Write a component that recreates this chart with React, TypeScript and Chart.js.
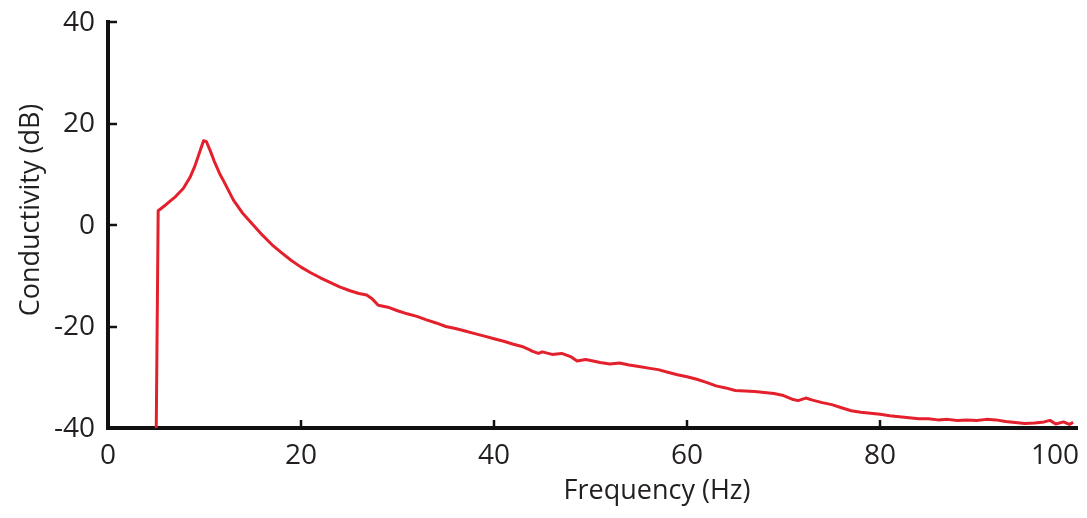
import React, { useEffect, useRef } from "react";
import { Chart, registerables } from "chart.js";

Chart.register(...registerables);

const frequencyHz = [
  5.0, 5.2, 6, 7, 7.8, 8.5, 9, 9.5, 9.9, 10.2, 10.6, 11, 11.6, 12, 13, 14, 15,
  16, 17, 18, 19, 20, 21, 22, 23, 24, 25, 26, 26.8, 27.4, 28, 29, 30, 31, 32,
  33, 34, 35, 36, 37, 38, 39, 40, 41, 42, 43, 43.6, 44, 44.6, 45, 46, 47, 48,
  48.6, 49.5, 50, 51, 52, 53, 53.5, 54, 55, 56, 57, 58, 59, 60, 61, 62, 63, 64,
  65, 66, 67, 68, 69, 70, 71, 71.5, 72.3, 73, 74, 75, 76, 77, 78, 79, 80, 81,
  82, 83, 84, 85, 86, 87, 88, 89, 90, 91, 92, 93, 94, 95, 96, 97, 97.6, 98.2,
  99, 99.6, 100,
];

const conductivityDb = [
  -40, 2.8, 4.0, 5.6, 7.2, 9.4, 11.6, 14.4, 16.6, 16.4, 14.6, 12.6, 10.0, 8.6,
  4.9, 2.2, 0.1, -2.0, -3.9, -5.5, -7.0, -8.3, -9.4, -10.4, -11.3, -12.2, -12.9,
  -13.5, -13.8, -14.6, -15.8, -16.2, -16.9, -17.5, -18.0, -18.7, -19.3, -20.0,
  -20.4, -20.9, -21.4, -21.9, -22.4, -22.9, -23.5, -24.0, -24.5, -24.9, -25.3,
  -25.0, -25.5, -25.3, -26.0, -26.8, -26.5, -26.7, -27.1, -27.4, -27.2, -27.4,
  -27.6, -27.9, -28.2, -28.5, -29.0, -29.5, -29.9, -30.4, -31.0, -31.7, -32.1,
  -32.6, -32.7, -32.8, -33.0, -33.2, -33.6, -34.4, -34.6, -34.1, -34.5, -35.0,
  -35.4, -36.0, -36.6, -36.9, -37.1, -37.3, -37.6, -37.8, -38.0, -38.2, -38.2,
  -38.4, -38.3, -38.5, -38.4, -38.5, -38.3, -38.4, -38.7, -38.9, -39.1, -39.0,
  -38.8, -38.5, -39.2, -38.8, -39.3, -38.9,
];

const xTicks = [0, 20, 40, 60, 80, 100];
const yTicks = [40, 20, 0, -20, -40];
const xTitle = "Frequency (Hz)";
const yTitle = "Conductivity (dB)";

const FONT = "'Open Sans', 'Noto Sans', sans-serif";
const TEXT = "#231f20";

const axisPlugin = {
  id: "axisDecor",
  afterDraw(chart: any) {
    const ctx = chart.ctx;
    const xs = chart.scales.x;
    const ys = chart.scales.y;
    const area = chart.chartArea;
    ctx.save();
    ctx.strokeStyle = "#111";
    ctx.lineWidth = 2.5;
    for (const v of yTicks) {
      if (v === -40) continue;
      const y = Math.round(ys.getPixelForValue(v));
      ctx.beginPath();
      ctx.moveTo(area.left - 1, y);
      ctx.lineTo(area.left + 9, y);
      ctx.stroke();
    }
    for (const v of xTicks) {
      if (v === 0 || v === 100) continue;
      const x = Math.round(xs.getPixelForValue(v));
      ctx.beginPath();
      ctx.moveTo(x, area.bottom + 1);
      ctx.lineTo(x, area.bottom - 8);
      ctx.stroke();
    }
    ctx.fillStyle = TEXT;
    ctx.font = `28px ${FONT}`;
    ctx.textAlign = "right";
    ctx.textBaseline = "middle";
    for (const v of yTicks) {
      const y = ys.getPixelForValue(v);
      ctx.fillText(String(v), area.left - 13, y + 1);
    }
    ctx.textAlign = "center";
    for (const v of xTicks) {
      let x = xs.getPixelForValue(v);
      const label = String(v);
      const w = ctx.measureText(label).width;
      if (x + w / 2 > chart.width - 8) x = chart.width - 8 - w / 2;
      ctx.fillText(label, x, area.bottom + 28);
    }
    ctx.font = `27px ${FONT}`;
    ctx.fillText(xTitle, 657, area.bottom + 63);
    ctx.save();
    ctx.translate(31, 210);
    ctx.rotate(-Math.PI / 2);
    ctx.fillText(yTitle, 0, 0);
    ctx.restore();
    ctx.restore();
  },
};

export default function App() {
  const ref = useRef<HTMLCanvasElement | null>(null);

  useEffect(() => {
    document.body.style.margin = "0";
    const canvas = ref.current;
    if (!canvas) return;
    const chart = new Chart(canvas, {
      type: "line",
      data: {
        datasets: [
          {
            label: "Conductivity",
            data: frequencyHz.map((f, i) => ({ x: f, y: conductivityDb[i] })),
            borderColor: "#e3202b",
            borderWidth: 3,
            borderJoinStyle: "round",
            pointRadius: 0,
            tension: 0,
            fill: false,
          },
        ],
      },
      options: {
        animation: false,
        responsive: false,
        devicePixelRatio: 1,
        layout: { padding: { top: 22, right: 10, left: 0, bottom: 0 } },
        plugins: {
          legend: { display: false },
          tooltip: { enabled: false },
        },
        scales: {
          x: {
            type: "linear",
            min: 0,
            max: 100.4,
            grid: { display: false, drawTicks: false },
            border: { display: true, color: "#111", width: 4 },
            ticks: { display: false, stepSize: 20 },
            afterFit: (s: any) => {
              s.height = 90;
            },
          },
          y: {
            type: "linear",
            min: -40,
            max: 40,
            grid: { display: false, drawTicks: false },
            border: { display: true, color: "#111", width: 4 },
            ticks: { display: false, stepSize: 20 },
            afterFit: (s: any) => {
              s.width = 108;
            },
          },
        },
      },
      plugins: [axisPlugin],
    });
    return () => chart.destroy();
  }, []);

  return (
    <div style={{ width: 1087, height: 518, background: "#fff" }}>
      <canvas ref={ref} width={1087} height={518} />
    </div>
  );
}
